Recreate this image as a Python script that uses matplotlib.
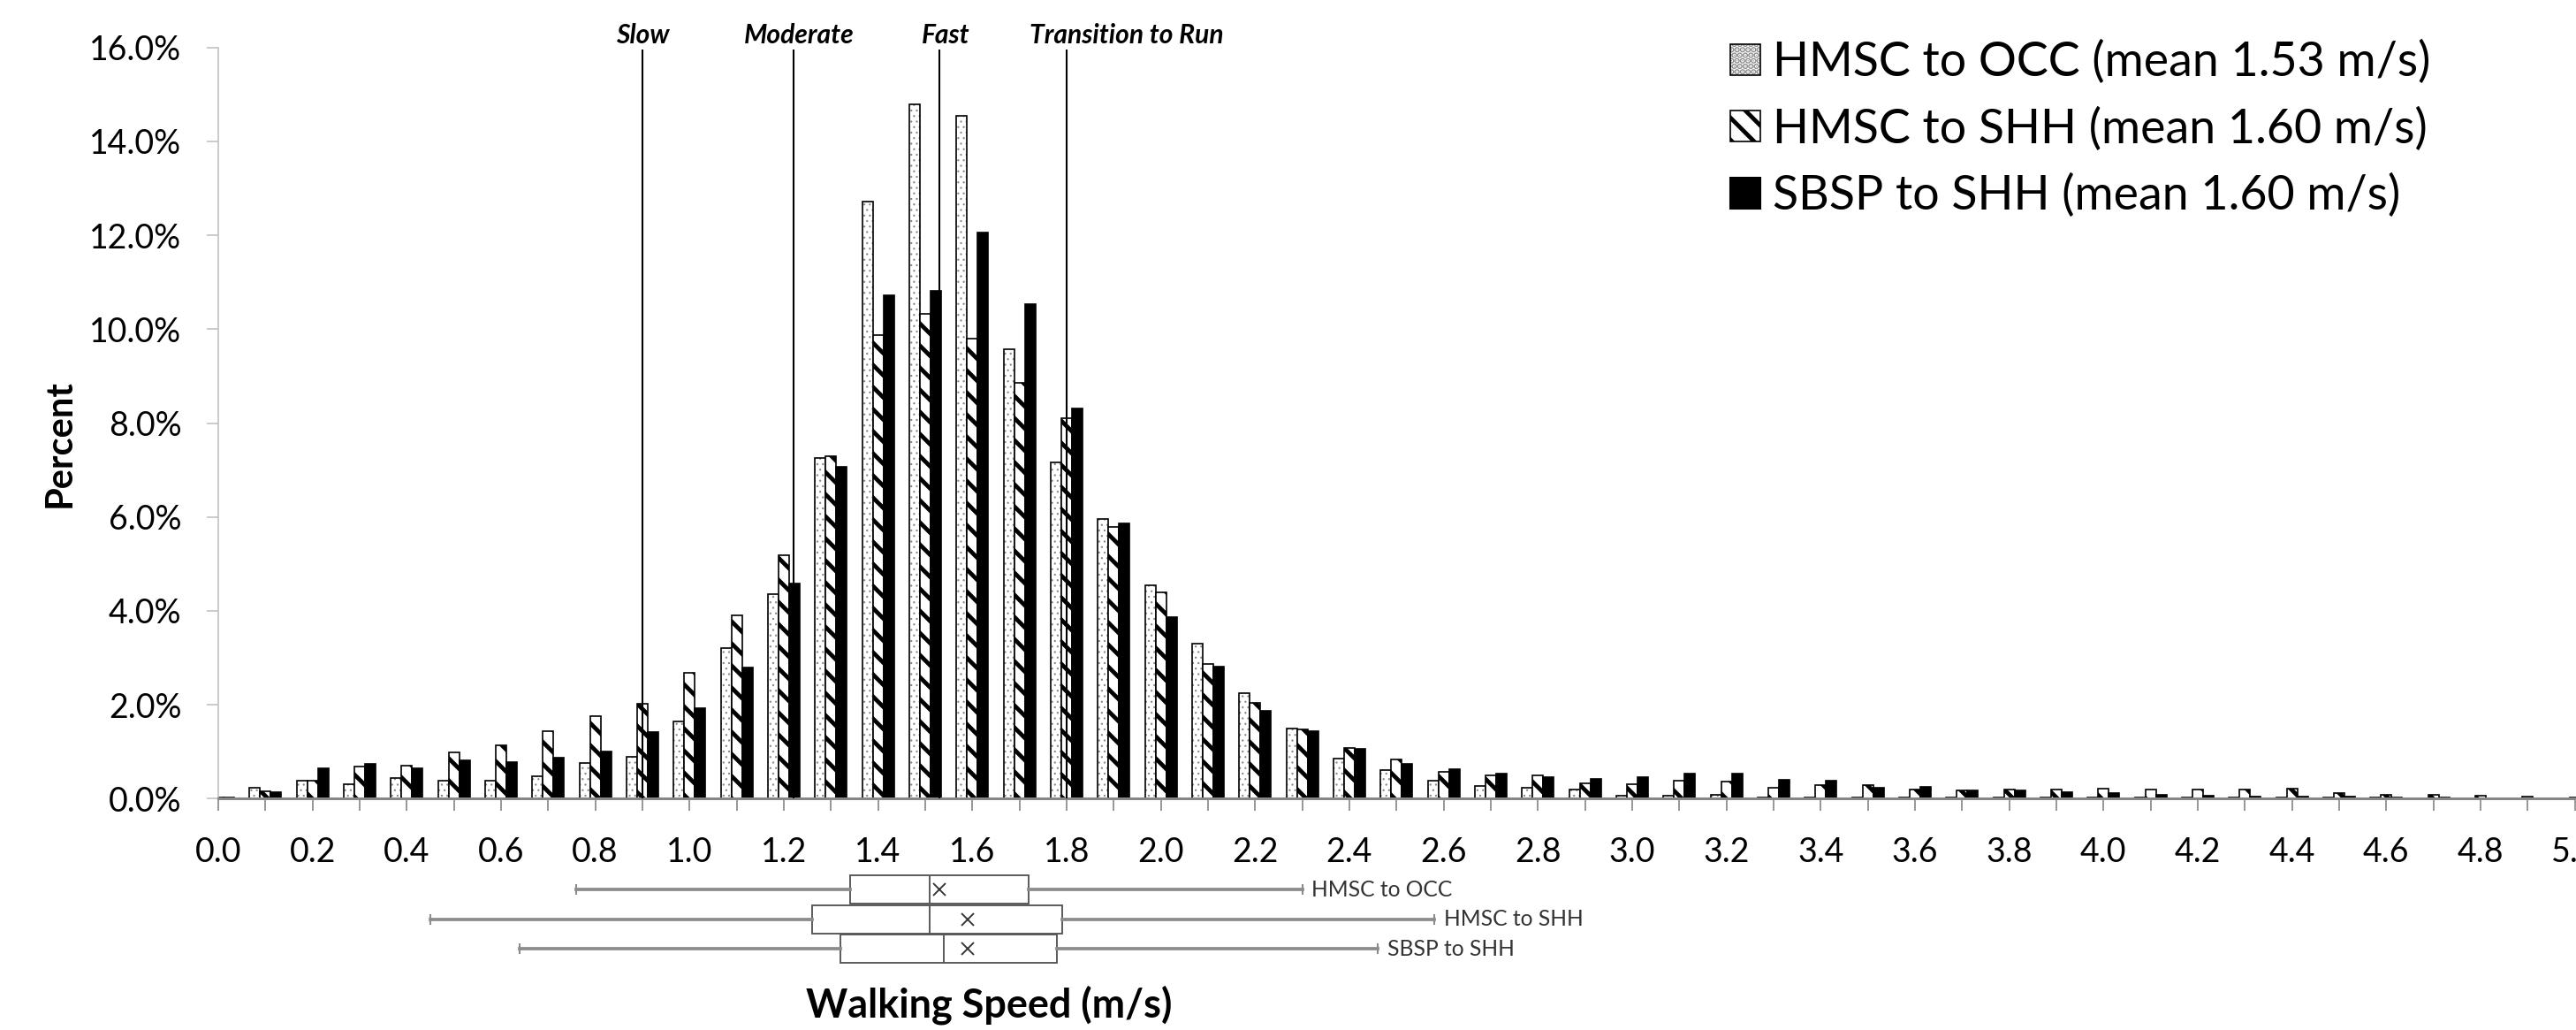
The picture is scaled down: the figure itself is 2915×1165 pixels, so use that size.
import matplotlib
matplotlib.use("Agg")
import matplotlib.pyplot as plt
import numpy as np
from matplotlib.patches import Patch
from matplotlib.ticker import FuncFormatter

# walking speed bins (m/s)
speeds = [0.0, 0.1, 0.2, 0.3, 0.4, 0.5, 0.6, 0.7, 0.8, 0.9,
          1.0, 1.1, 1.2, 1.3, 1.4, 1.5, 1.6, 1.7, 1.8, 1.9,
          2.0, 2.1, 2.2, 2.3, 2.4, 2.5, 2.6, 2.7, 2.8, 2.9,
          3.0, 3.1, 3.2, 3.3, 3.4, 3.5, 3.6, 3.7, 3.8, 3.9,
          4.0, 4.1, 4.2, 4.3, 4.4, 4.5, 4.6, 4.7, 4.8, 4.9, 5.0]

# percent of observations per bin
hmsc_occ = [0.00, 0.23, 0.39, 0.31, 0.44, 0.39, 0.39, 0.47, 0.76, 0.90,
            1.64, 3.21, 4.36, 7.25, 12.71, 14.78, 14.54, 9.57, 7.16, 5.96,
            4.55, 3.30, 2.25, 1.50, 0.85, 0.61, 0.38, 0.26, 0.23, 0.19,
            0.06, 0.06, 0.09, 0.03, 0.03, 0.03, 0.03, 0.03, 0.02, 0.02,
            0.02, 0.02, 0.02, 0.02, 0.02, 0.02, 0.02, 0.01, 0.01, 0.01, 0.00]
hmsc_shh = [0.02, 0.16, 0.39, 0.69, 0.70, 0.98, 1.14, 1.44, 1.76, 2.02,
            2.68, 3.90, 5.18, 7.30, 9.87, 10.33, 9.79, 8.85, 8.11, 5.79,
            4.39, 2.86, 2.04, 1.47, 1.08, 0.84, 0.58, 0.50, 0.50, 0.33,
            0.30, 0.39, 0.36, 0.23, 0.28, 0.28, 0.20, 0.17, 0.20, 0.20,
            0.21, 0.20, 0.20, 0.20, 0.22, 0.11, 0.08, 0.08, 0.06, 0.04, 0.03]
sbsp_shh = [0.03, 0.13, 0.65, 0.74, 0.65, 0.82, 0.78, 0.87, 1.00, 1.41,
            1.93, 2.80, 4.58, 7.07, 10.73, 10.81, 12.06, 10.53, 8.32, 5.86,
            3.86, 2.82, 1.87, 1.44, 1.06, 0.74, 0.63, 0.53, 0.45, 0.42,
            0.46, 0.53, 0.53, 0.40, 0.39, 0.23, 0.25, 0.17, 0.17, 0.14,
            0.11, 0.09, 0.06, 0.05, 0.04, 0.04, 0.03, 0.02, 0.01, 0.01, 0.00]

series_labels = ["HMSC to OCC (mean 1.53 m/s)",
                 "HMSC to SHH (mean 1.60 m/s)",
                 "SBSP to SHH (mean 1.60 m/s)"]

# walking pace thresholds (m/s)
pace_labels = ["Slow", "Moderate", "Fast", "Transition to Run"]
pace_speeds = [0.90, 1.22, 1.53, 1.80]

# box plot summaries (m/s)
box_names = ["HMSC to OCC", "HMSC to SHH", "SBSP to SHH"]
box_whislo = [0.76, 0.45, 0.64]
box_q1 = [1.34, 1.26, 1.32]
box_med = [1.51, 1.51, 1.54]
box_q3 = [1.72, 1.79, 1.78]
box_whishi = [2.30, 2.58, 2.46]
box_mean = [1.53, 1.59, 1.59]

# layout (pixels of the 2915x1165 output)
W, H, DPI = 2915, 1165, 150
X0_PX, Y0_PX = 247, 903.3
PX_PER_MS, PX_PER_PCT = 533.3, 53.1
XMAX = 5.06
BAR_W = 0.0225
DOT_GREY = "#8a8a8a"

plt.rcParams["font.family"] = ["Lato", "DejaVu Sans"]
plt.rcParams["hatch.linewidth"] = 2.3

fig = plt.figure(figsize=(W / DPI, H / DPI), dpi=DPI)
ax = fig.add_axes([X0_PX / W, (H - Y0_PX) / H,
                   XMAX * PX_PER_MS / W, 16 * PX_PER_PCT / H])

x = np.array(speeds)

dots = ax.bar(x - BAR_W, hmsc_occ, BAR_W, color="white", edgecolor=DOT_GREY,
              hatch="....", linewidth=0)
for bar in dots:
    if hasattr(bar, "set_hatch_linewidth"):
        bar.set_hatch_linewidth(0.5)
ax.bar(x - BAR_W, hmsc_occ, BAR_W, fill=False, edgecolor="black", linewidth=0.8)
ax.bar(x, hmsc_shh, BAR_W, color="white", edgecolor="black", hatch="\\\\",
       linewidth=0.8)
ax.bar(x + BAR_W, sbsp_shh, BAR_W, color="black", edgecolor="black",
       linewidth=0.8)

ax.set_xlim(0, XMAX)
ax.set_ylim(0, 16)
ax.set_xticks(speeds)
ax.set_xticklabels([f"{s:.1f}" if i % 2 == 0 else "" for i, s in enumerate(speeds)])
ax.set_yticks(np.arange(0, 17, 2))
ax.yaxis.set_major_formatter(FuncFormatter(lambda v, _: f"{v:.1f}%"))
ax.tick_params(axis="x", length=6.8, width=0.75, color="#7f7f7f", pad=13.6,
               labelsize=18)
ax.tick_params(axis="y", length=6.4, width=0.75, color="#bfbfbf", pad=13.6,
               labelsize=18)
for side in ("top", "right"):
    ax.spines[side].set_visible(False)
ax.spines["left"].set_color("#bfbfbf")
ax.spines["left"].set_linewidth(0.75)
ax.spines["bottom"].set_color("#868686")
ax.spines["bottom"].set_linewidth(1.45)

# pace threshold markers
ax.vlines(pace_speeds, 0, 15.95, colors="black", linewidth=1.0, clip_on=False,
          zorder=3)
label_shift = [0.0, 0.012, 0.013, 0.127]
for lab, sp, dx in zip(pace_labels, pace_speeds, label_shift):
    ax.text(sp + dx, 16.08, lab, ha="center", va="baseline", fontsize=14.4,
            fontweight="bold", style="italic", clip_on=False)

handles = [
    (Patch(facecolor="white", edgecolor=DOT_GREY, hatch="....", linewidth=0),
     Patch(fill=False, edgecolor="black", linewidth=0.8)),
    Patch(facecolor="white", edgecolor="black", hatch="\\\\", linewidth=0.8),
    Patch(facecolor="black", edgecolor="black"),
]
fig.legend(handles, series_labels, loc="upper left",
           bbox_to_anchor=(1958 / W, 1 - 45 / H), frameon=False, fontsize=25.8,
           handlelength=0.63, handleheight=0.63, handletextpad=0.27,
           labelspacing=0.47, borderpad=0, borderaxespad=0)

# box plots under the axis
bax = fig.add_axes([X0_PX / W, (H - 1095) / H, XMAX * PX_PER_MS / W, 110 / H])
stats = [dict(label=n, whislo=lo, q1=a, med=m, q3=b, whishi=hi, mean=mu,
              fliers=[])
         for n, lo, a, m, b, hi, mu in zip(box_names, box_whislo, box_q1,
                                           box_med, box_q3, box_whishi, box_mean)]
box_kw = dict(positions=[1, 2, 3], widths=0.95, showmeans=True,
              showfliers=False, patch_artist=True, capwidths=0.3,
              boxprops=dict(facecolor="white", edgecolor="#555555", linewidth=0.9),
              whiskerprops=dict(color="#8c8c8c", linewidth=1.8),
              capprops=dict(color="#8c8c8c", linewidth=1.0),
              medianprops=dict(color="#555555", linewidth=0.9),
              meanprops=dict(marker="x", markeredgecolor="#333333",
                             markersize=6.4, markeredgewidth=0.9))
try:
    bax.bxp(stats, orientation="horizontal", **box_kw)
except TypeError:
    bax.bxp(stats, vert=False, **box_kw)
bax.set_xlim(0, XMAX)
bax.set_ylim(3.65, 0.37)
bax.axis("off")
for pos, (name, hi) in enumerate(zip(box_names, box_whishi), start=1):
    bax.text(hi + 0.02, pos, name, ha="left", va="center", fontsize=11.8,
             color="#333333")

fig.text(68 / W, 1 - 502 / H, "Percent", rotation=90, ha="center",
         va="center", fontsize=20, fontweight="bold")
fig.text(1119 / W, 1 - 1137 / H, "Walking Speed (m/s)", ha="center",
         va="center", fontsize=21.6, fontweight="bold")

fig.savefig("out.png", dpi=DPI)
plt.close(fig)
